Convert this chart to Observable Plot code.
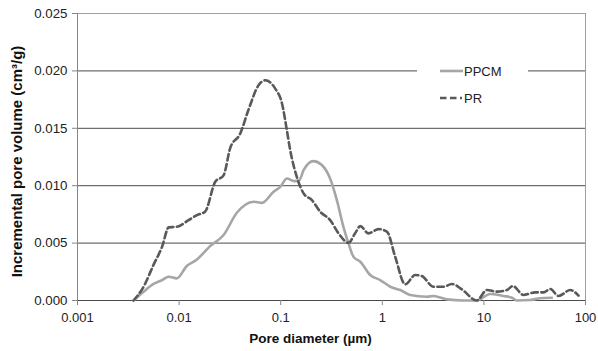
<!DOCTYPE html>
<html>
<head>
<meta charset="utf-8">
<script src="https://cdn.jsdelivr.net/npm/d3@7"></script>
<script src="https://cdn.jsdelivr.net/npm/@observablehq/plot@0.6"></script>
<style>
  html, body { margin: 0; padding: 0; background: #fff; }
  #chart { position: relative; width: 598px; height: 351px; }
  svg { font-family: "Liberation Sans", Arial, sans-serif; }
</style>
</head>
<body>
<div id="chart"></div>
<script>
// ---- Data ----
const seriesNames = ["PPCM", "PR"];

const ppcmDiameter = [0.00356, 0.00447, 0.0056, 0.0068, 0.0079, 0.0095, 0.0119, 0.015, 0.0202, 0.0274, 0.037, 0.054, 0.0653, 0.085, 0.099, 0.115, 0.136, 0.153, 0.168, 0.21, 0.254, 0.307, 0.357, 0.415, 0.465, 0.521, 0.607, 0.76, 0.953, 1.2, 1.5, 1.88, 2.75, 3.19, 4.32, 6.3, 8.5, 11.5, 15.6, 18.9, 21, 28.6, 35.8, 46.7];
const ppcmVolume = [0, 0.00077, 0.00144, 0.00178, 0.00207, 0.00193, 0.0030, 0.00358, 0.00474, 0.0057, 0.00764, 0.0086, 0.0085, 0.00947, 0.0099, 0.01063, 0.0104, 0.0105, 0.01135, 0.01214, 0.0118, 0.0106, 0.00874, 0.0064, 0.00498, 0.0038, 0.00338, 0.00222, 0.00178, 0.0012, 0.00091, 0.00048, 0.00033, 0.00039, 0.0001, 0, 0, 0.00057, 0.00039, 0.00024, 0, 0.00004, 0.0002, 0.00024];

const prDiameter = [0.00356, 0.00447, 0.0056, 0.0068, 0.0079, 0.0095, 0.0124, 0.015, 0.018, 0.0227, 0.0274, 0.0319, 0.04, 0.048, 0.0605, 0.0704, 0.0883, 0.103, 0.115, 0.124, 0.144, 0.168, 0.203, 0.245, 0.307, 0.371, 0.465, 0.54, 0.607, 0.732, 0.918, 1.11, 1.34, 1.68, 2.11, 2.45, 3.19, 4.0, 4.84, 6.07, 8.5, 10.7, 13.4, 16.8, 19.3, 24.5, 32, 38.6, 45, 54.2, 70.8, 85.4];
const prVolume = [0, 0.0012, 0.0031, 0.00468, 0.00637, 0.00642, 0.0070, 0.00744, 0.00773, 0.01034, 0.0109, 0.0133, 0.01455, 0.01657, 0.01875, 0.01918, 0.01846, 0.01716, 0.01483, 0.0131, 0.01077, 0.00933, 0.00874, 0.00773, 0.0070, 0.00585, 0.00503, 0.00585, 0.00648, 0.00585, 0.00622, 0.006, 0.0038, 0.00141, 0.00222, 0.00213, 0.0012, 0.0012, 0.00144, 0.00097, 0, 0.00091, 0.00077, 0.00091, 0.00126, 0.00048, 0.00071, 0.00071, 0.001, 0.00039, 0.00091, 0.00042];

const xTicks = [0.001, 0.01, 0.1, 1, 10, 100];
const xTickLabels = ["0.001", "0.01", "0.1", "1", "10", "100"];
const yTicks = [0, 0.005, 0.010, 0.015, 0.020, 0.025];
const yTickLabels = ["0.000", "0.005", "0.010", "0.015", "0.020", "0.025"];
const xTitle = "Pore diameter (µm)";
const yTitle = "Incremental pore volume (cm³/g)";

// ---- Build tables ----
const ppcm = ppcmDiameter.map((d, i) => ({d, v: ppcmVolume[i]}));
const pr = prDiameter.map((d, i) => ({d, v: prVolume[i]}));
const gridVals = yTicks.filter(t => t > 0 && t < 0.025);
const xLabelOf = d => { const i = xTicks.findIndex(t => Math.abs(Math.log10(t) - Math.log10(d)) < 1e-6); return i >= 0 ? xTickLabels[i] : ""; };
const yLabelOf = d => { const i = yTicks.findIndex(t => Math.abs(t - d) < 1e-9); return i >= 0 ? yTickLabels[i] : ""; };

const chart = Plot.plot({
  width: 598,
  height: 351,
  marginLeft: 77,
  marginRight: 13,
  marginTop: 13,
  marginBottom: 51,
  style: {fontFamily: "Liberation Sans, Arial, sans-serif", fontSize: "13px", color: "#222", background: "#fff"},
  x: {type: "log", domain: [0.001, 100]},
  y: {domain: [0, 0.025]},
  marks: [
    Plot.ruleY(gridVals, {stroke: "#4a4a4a", strokeWidth: 1}),
    Plot.ruleY([0.025], {stroke: "#a0a0a0", strokeWidth: 1}),
    Plot.ruleX([100], {stroke: "#a0a0a0", strokeWidth: 1}),
    Plot.ruleX([0.001], {stroke: "#868686", strokeWidth: 1}),
    Plot.ruleY([0], {stroke: "#4a4a4a", strokeWidth: 1}),
    Plot.axisX({ticks: xTicks, tickFormat: xLabelOf, tickSize: 5, tickPadding: 7, stroke: "#868686", label: null, fontSize: 13}),
    Plot.axisY({ticks: yTicks, tickFormat: yLabelOf, tickSize: 5, tickPadding: 5, stroke: "#868686", label: null, fontSize: 13.3}),
    Plot.line(ppcm, {x: "d", y: "v", stroke: "#a6a6a6", strokeWidth: 2.6, curve: "monotone-x"}),
    Plot.line(pr, {x: "d", y: "v", stroke: "#595959", strokeWidth: 2.6, strokeDasharray: "6.5,3.5", curve: "monotone-x"}),
    Plot.text([xTitle], {frameAnchor: "bottom", dx: -21, dy: 38, fontWeight: "bold", fontSize: 13.5, fill: "#111", lineAnchor: "middle", textAnchor: "middle"}),
    Plot.text([yTitle], {frameAnchor: "left", dx: -60.5, dy: 4.5, rotate: -90, fontWeight: "bold", fontSize: 15, fill: "#111", lineAnchor: "middle", textAnchor: "middle"})
  ]
});

// legend inside the plot area
const svg = d3.select(chart);
const lg = svg.append("g").attr("font-family", "Liberation Sans, Arial, sans-serif").attr("font-size", 13).attr("fill", "#222").attr("text-anchor", "start");
lg.append("rect").attr("x", 417).attr("y", 55).attr("width", 111).attr("height", 57).attr("fill", "#fff");
lg.append("line").attr("x1", 440).attr("x2", 463).attr("y1", 71).attr("y2", 71).attr("stroke", "#a6a6a6").attr("stroke-width", 2.6);
lg.append("text").attr("x", 464).attr("y", 71).attr("dy", "0.35em").attr("text-anchor", "start").text(seriesNames[0]);
lg.append("line").attr("x1", 440).attr("x2", 462).attr("y1", 98).attr("y2", 98).attr("stroke", "#595959").attr("stroke-width", 2.6).attr("stroke-dasharray", "6.5,3.5");
lg.append("text").attr("x", 464).attr("y", 98).attr("dy", "0.35em").attr("text-anchor", "start").text(seriesNames[1]);

document.getElementById("chart").appendChild(chart);
</script>
</body>
</html>
